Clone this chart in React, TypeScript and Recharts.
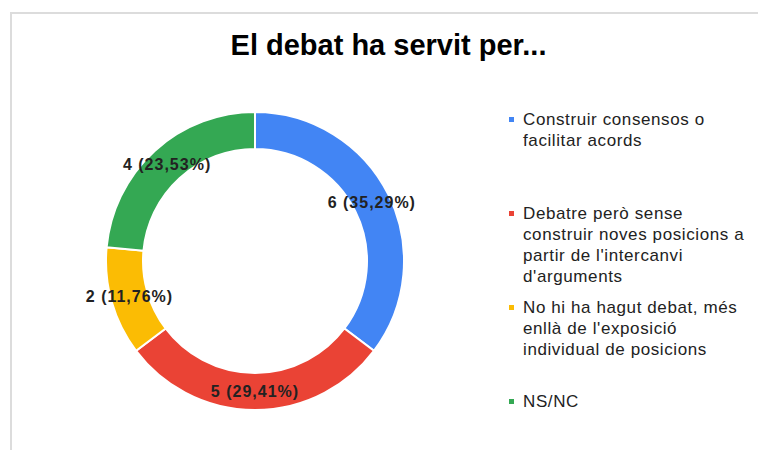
import { PieChart, Pie, Cell } from 'recharts';

// Chart data
const categoryLines = [
  ['Construir consensos o', 'facilitar acords'],
  ['Debatre però sense', 'construir noves posicions a', "partir de l'intercanvi", "d'arguments"],
  ['No hi ha hagut debat, més', "enllà de l'exposició", 'individual de posicions'],
  ['NS/NC'],
];
const categories = categoryLines.map(lines => lines.join(' '));
const counts = [6, 5, 2, 4];
const colors = ['#4285F4', '#EA4335', '#FBBC04', '#34A853'];
const title = 'El debat ha servit per...';

const total = counts.reduce((a, b) => a + b, 0);
const chartData = categories.map((name, i) => ({ name, value: counts[i] }));

const FONT = '"Liberation Sans", Arial, sans-serif';
const RADIAN = Math.PI / 180;

const renderLabel = (props: any) => {
  const { cx, cy, midAngle, innerRadius, outerRadius, value } = props;
  const r = (innerRadius + outerRadius) / 2;
  const x = cx + r * Math.cos(-midAngle * RADIAN);
  const y = cy + r * Math.sin(-midAngle * RADIAN);
  const pct = ((value / total) * 100).toFixed(2).replace('.', ',');
  return (
    <text
      x={x}
      y={y}
      textAnchor="middle"
      dominantBaseline="central"
      fill="#222"
      fontFamily={FONT}
      fontWeight="bold"
      fontSize={16}
      letterSpacing={1}
    >
      {`${value} (${pct}%)`}
    </text>
  );
};

export default function App() {
  return (
    <div style={{ position: 'absolute', left: 0, top: 0, width: 758, height: 450, background: '#fff', overflow: 'hidden' }}>
      {/* frame */}
      <div
        style={{
          position: 'absolute',
          left: 10,
          top: 12,
          width: 760,
          height: 460,
          borderTop: '2px solid #dcdcdc',
          borderLeft: '2px solid #dcdcdc',
        }}
      />
      <div
        style={{
          position: 'absolute',
          left: 0,
          top: 31,
          width: 777,
          textAlign: 'center',
          fontFamily: FONT,
          fontWeight: 'bold',
          fontSize: 29,
          lineHeight: '29px',
          color: '#000',
        }}
      >
        {title}
      </div>
      <div style={{ position: 'absolute', left: 0, top: 0 }}>
        <PieChart width={758} height={450} margin={{ top: 0, right: 0, bottom: 0, left: 0 }}>
          <Pie
            data={chartData}
            dataKey="value"
            nameKey="name"
            cx={255}
            cy={261}
            innerRadius={112}
            outerRadius={149}
            startAngle={90}
            endAngle={-270}
            stroke="#fff"
            strokeWidth={2}
            label={renderLabel}
            labelLine={false}
            isAnimationActive={false}
          >
            {chartData.map((d, i) => (
              <Cell key={d.name} fill={colors[i]} />
            ))}
          </Pie>
        </PieChart>
      </div>
      {/* legend */}
      {categoryLines.map((lines, i) => (
        <div
          key={categories[i]}
          style={{ position: 'absolute', left: 509, top: 108.5 + i * 94.3, fontFamily: FONT }}
        >
          <div style={{ position: 'absolute', left: 0, top: 8, width: 5, height: 5, background: colors[i] }} />
          <div
            style={{
              position: 'absolute',
              left: 14,
              top: 0,
              fontSize: 17,
              lineHeight: '21px',
              letterSpacing: 0.6,
              color: '#222',
              whiteSpace: 'nowrap',
            }}
          >
            {lines.map(l => (
              <div key={l}>{l}</div>
            ))}
          </div>
        </div>
      ))}
    </div>
  );
}
